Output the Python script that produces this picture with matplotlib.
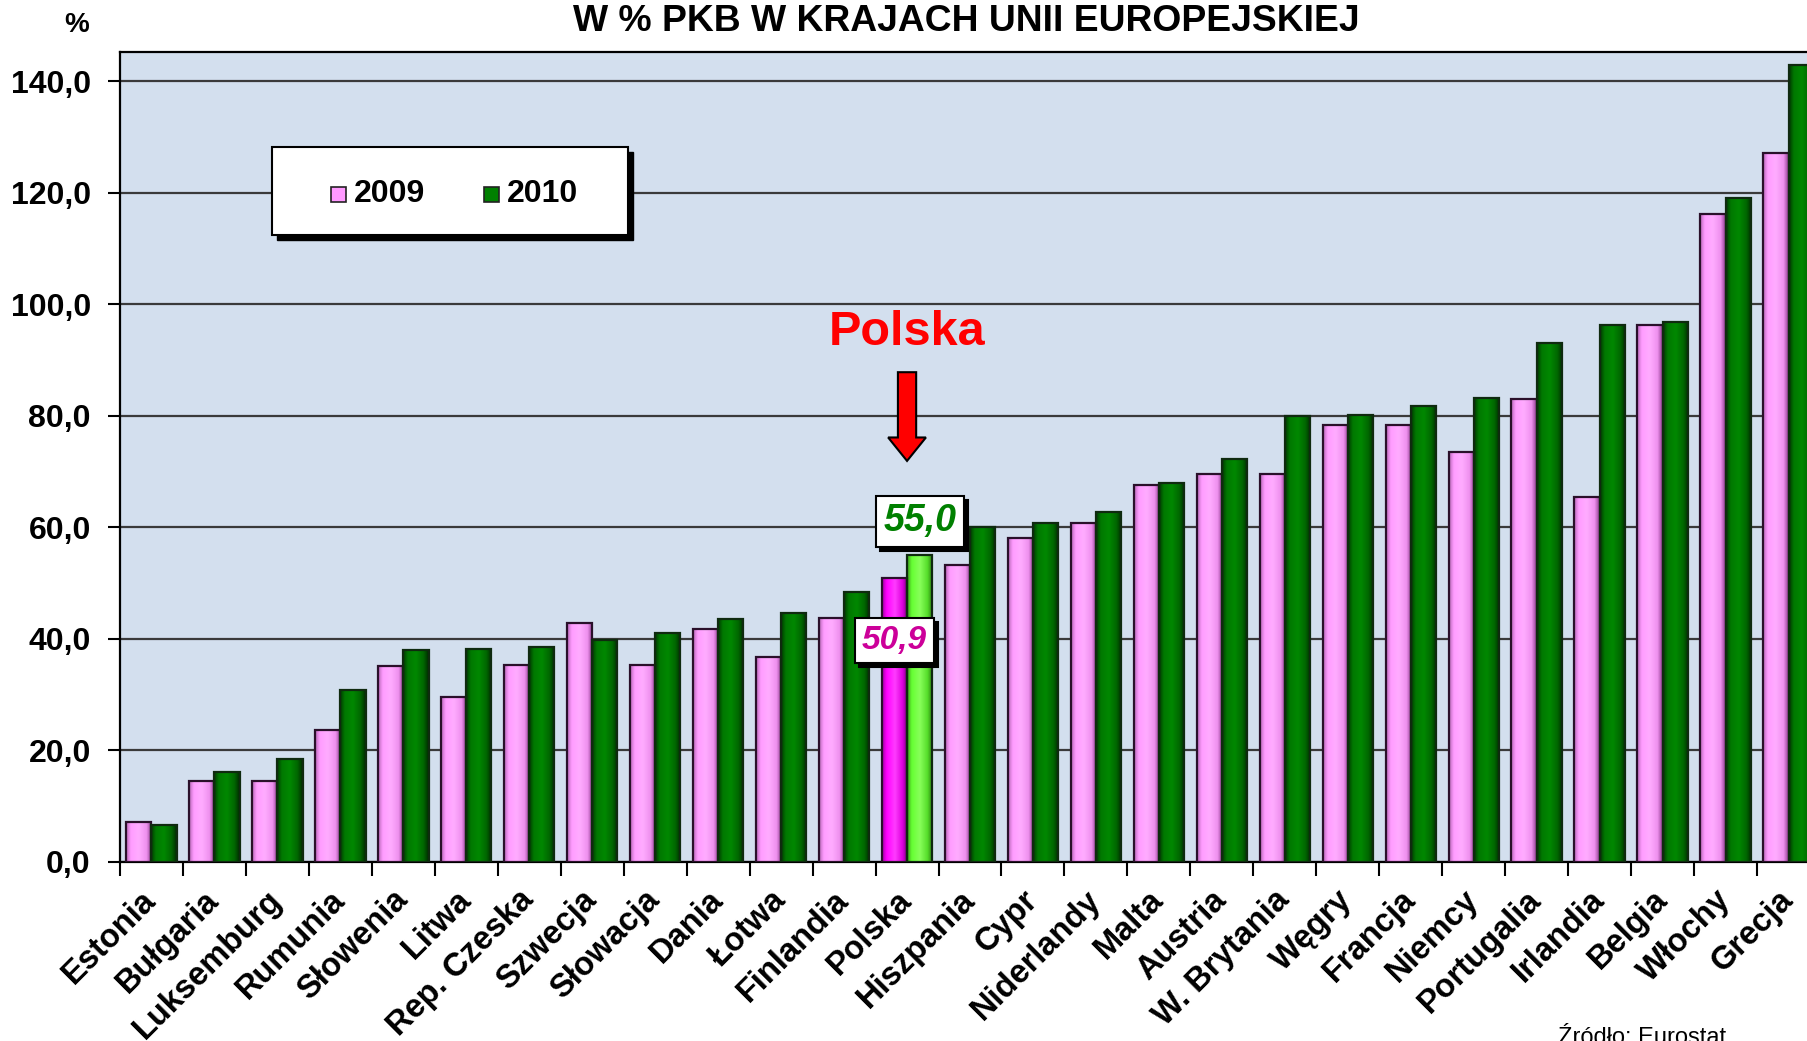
import numpy as np
import matplotlib
matplotlib.use("Agg")
import matplotlib.pyplot as plt
from matplotlib.patches import Rectangle, FancyArrow
from matplotlib.colors import LinearSegmentedColormap

# ---------------- data ----------------
countries = ["Estonia", "Bułgaria", "Luksemburg", "Rumunia", "Słowenia", "Litwa",
             "Rep. Czeska", "Szwecja", "Słowacja", "Dania", "Łotwa", "Finlandia",
             "Polska", "Hiszpania", "Cypr", "Niderlandy", "Malta", "Austria",
             "W. Brytania", "Węgry", "Francja", "Niemcy", "Portugalia", "Irlandia",
             "Belgia", "Włochy", "Grecja"]
debt_2009 = [7.2, 14.6, 14.6, 23.6, 35.2, 29.5, 35.3, 42.8, 35.4, 41.8, 36.7, 43.8,
             50.9, 53.3, 58.0, 60.8, 67.6, 69.6, 69.6, 78.4, 78.3, 73.5, 83.0, 65.5,
             96.2, 116.1, 127.1]
debt_2010 = [6.6, 16.2, 18.4, 30.8, 38.0, 38.2, 38.5, 39.8, 41.0, 43.6, 44.7, 48.4,
             55.0, 60.1, 60.8, 62.7, 68.0, 72.3, 80.0, 80.2, 81.7, 83.2, 93.0, 96.2,
             96.8, 119.0, 142.8]
series_names = ["2009", "2010"]
ytick_values = [0, 20, 40, 60, 80, 100, 120, 140]
ytick_labels = ["0,0", "20,0", "40,0", "60,0", "80,0", "100,0", "120,0", "140,0"]
highlight = "Polska"
label_2010 = "55,0"
label_2009 = "50,9"
title = "W % PKB W KRAJACH UNII EUROPEJSKIEJ"
source = "Źródło: Eurostat"

# ---------------- style ----------------
plt.rcParams['font.family'] = ['Liberation Sans', 'DejaVu Sans']
W, H = 1807, 1041
fig = plt.figure(figsize=(W / 100, H / 100), dpi=100)
ax = fig.add_axes([120 / W, 179 / H, 1700 / W, 810 / H])
ax.set_facecolor('#D3DFEE')

ax.set_yticks(ytick_values)
ax.set_yticklabels(ytick_labels, fontsize=23, fontweight='bold')
ax.yaxis.grid(True, color='#3a3a3a', lw=1.6)
ax.set_axisbelow(True)
ax.tick_params(axis='y', length=9, width=1.5, pad=12, direction='out')

x = np.arange(len(countries))
ax.set_xticks(x)
ax.set_xticklabels(countries, rotation=45, ha='right', va='center',
                   rotation_mode='anchor', fontsize=23.5, fontweight='bold')
ax.set_xticks(np.arange(-0.5, len(countries) + 0.5, 1), minor=True)
ax.tick_params(axis='x', which='major', length=0, pad=24)
ax.tick_params(axis='x', which='minor', length=10, width=1.5, direction='out')
for s in ['left', 'bottom', 'top']:
    ax.spines[s].set_linewidth(1.6)
    ax.spines[s].set_color('black')

bw = 0.4
idx_pl = countries.index(highlight)

def grad_cmap(cols):
    return LinearSegmentedColormap.from_list('g', list(zip([0, 0.18, 0.5, 0.8, 1.0], cols)))

pink = grad_cmap(['#B868B8', '#FF9CFF', '#FFACFF', '#EE90EE', '#8A3A8A'])
green = grad_cmap(['#003A00', '#007800', '#008800', '#006600', '#002A00'])
magenta = grad_cmap(['#A000A0', '#FF00FF', '#FF3CFF', '#DD00DD', '#700070'])
lime = grad_cmap(['#3A9A1A', '#66FF33', '#88FF5A', '#55DD2A', '#2A7A10'])

grad = np.linspace(0, 1, 64).reshape(1, -1)

def draw_bars(offset, vals, cmap_main, cmap_hl, edge):
    bars = ax.bar(x + offset, vals, width=bw, facecolor='none', edgecolor=edge,
                  linewidth=1.6, zorder=4)
    for i, b in enumerate(bars):
        cm = cmap_hl if i == idx_pl else cmap_main
        im = ax.imshow(grad, cmap=cm, aspect='auto', zorder=3,
                       extent=[b.get_x(), b.get_x() + b.get_width(), 0, b.get_height()])
        im.set_clip_path(b)
    return bars

draw_bars(-bw / 2, debt_2009, pink, magenta, '#2a102a')
draw_bars(bw / 2, debt_2010, green, lime, '#0f2a0f')
ax.set_xlim(-0.5, len(countries) - 0.5)
ax.set_ylim(0, 145.2)

# ---------------- annotations ----------------
ax.text(idx_pl, 95.0, highlight, color='#FF0000', fontsize=35, fontweight='bold',
        ha='center', va='center', zorder=6)
ax.add_patch(FancyArrow(idx_pl, 87.8, 0, -15.9, width=0.29, head_width=0.6,
                        head_length=4.2, length_includes_head=True,
                        facecolor='#FF0000', edgecolor='black', lw=1.5, zorder=6))

def boxed_label(xv, yv, txt, col, size):
    for dx, dy, fc, tc, z in [(4, -4, 'black', 'black', 6), (0, 0, 'white', col, 7)]:
        ax.annotate(txt, (xv, yv), xytext=(dx, dy), textcoords='offset pixels',
                    ha='center', va='center', fontsize=size, fontweight='bold',
                    fontstyle='italic', color=tc, zorder=z,
                    bbox=dict(boxstyle='square,pad=0.2', fc=fc, ec='black', lw=1.5))

boxed_label(idx_pl + bw / 2, debt_2010[idx_pl] + 6.1, label_2010, '#008000', 27)
boxed_label(idx_pl - bw / 2, debt_2009[idx_pl] - 11.2, label_2009, '#CC0099', 24)

# ---------------- legend (manual) ----------------
def fx(px):
    return px / W

def fy(py):
    return 1 - py / H

fig.patches.append(Rectangle((fx(277), fy(240)), fx(356), 88 / H, transform=fig.transFigure,
                             facecolor='black', edgecolor='black', zorder=5))
fig.patches.append(Rectangle((fx(272), fy(235)), fx(356), 88 / H, transform=fig.transFigure,
                             facecolor='white', edgecolor='black', lw=1.5, zorder=6))
for xm, col, name in [(331, '#FF99FF', series_names[0]), (484, '#008000', series_names[1])]:
    fig.patches.append(Rectangle((fx(xm), fy(202)), fx(15), 15 / H, transform=fig.transFigure,
                                 facecolor=col, edgecolor='#222222', lw=1.2, zorder=7))
    fig.text(fx(xm + 23), fy(194.5), name, fontsize=23, fontweight='bold',
             ha='left', va='center', zorder=8)

# ---------------- titles ----------------
fig.text(fx(966), fy(31), title, fontsize=26.8, fontweight='bold', ha='center', va='baseline')
fig.text(fx(77), fy(32), "%", fontsize=20, fontweight='bold', ha='center', va='baseline')
fig.text(fx(1558), fy(1027), source, fontsize=17, ha='left', va='top')

fig.savefig('out.png', dpi=100)
